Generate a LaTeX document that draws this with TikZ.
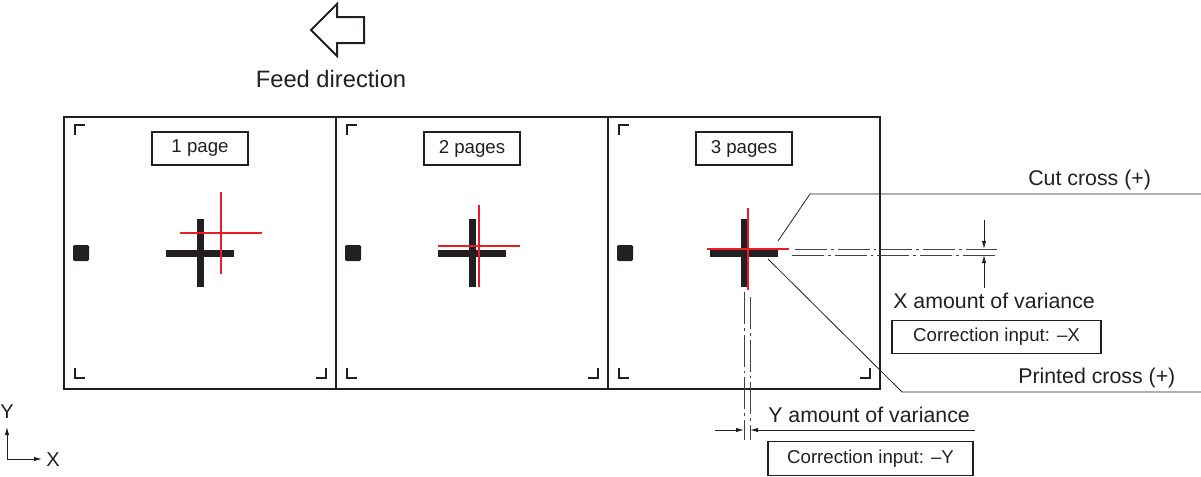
\documentclass[tikz,border=0pt]{standalone}
\usepackage{fontspec}
\setmainfont{Liberation Sans}
\usetikzlibrary{arrows.meta}
\definecolor{ink}{HTML}{231F20}
\definecolor{cutred}{HTML}{ED1C24}
\tikzset{
  frame/.style={draw=ink,line width=2.2pt},
  cornermark/.style={draw=ink,line width=2pt},
  pagebox/.style={draw=ink,line width=0.8pt,minimum width=72pt,minimum height=24.75pt,inner sep=0pt,font=\fontsize{14}{16}\selectfont,text=ink},
  corrbox/.style={draw=ink,line width=0.8pt,minimum height=25pt,inner sep=0pt,font=\fontsize{14}{16}\selectfont,text=ink},
  lbl/.style={font=\fontsize{16}{19}\selectfont,text=ink,inner sep=0pt},
  axlbl/.style={font=\fontsize{15}{17}\selectfont,text=ink,inner sep=0pt},
  blackbar/.style={fill=ink},
  redline/.style={draw=cutred,line width=1.7pt},
  dashdot/.style={draw=ink!85,line width=0.6pt,dash pattern=on 24pt off 3pt on 2pt off 3pt},
  leader/.style={draw=ink,line width=0.6pt},
  dimarrow/.style={draw=ink,line width=0.6pt,-{Latex[length=6pt,width=3.2pt]}},
}
\begin{document}
\begin{tikzpicture}[x=0.75pt,y=-0.75pt]
\useasboundingbox (0,0) rectangle (1201,476);

% feed direction arrow
\draw[draw=ink,line width=1.5pt,line join=miter]
  (311,30) -- (337,4) -- (337,17) -- (364,17) -- (364,43) -- (337,43) -- (337,56) -- cycle;
\node[lbl,font=\fontsize{17.8}{21}\selectfont] (feed) at (331,79) {Feed direction};

% pages
\foreach \i/\lab/\rx/\ry in {0/1 page/21/-20, 1/2 pages/7/-7, 2/3 pages/4/-4}{
  \pgfmathsetmacro{\o}{272*\i}
  \draw[frame] (\o+64,117) rectangle (\o+336,389);
  % corner marks
  \draw[cornermark] (\o+75,135) -- (\o+75,125) -- (\o+85,125);
  \draw[cornermark] (\o+75,368) -- (\o+75,378) -- (\o+85,378);
  \draw[cornermark] (\o+316,378) -- (\o+326,378) -- (\o+326,368);
  % register square
  \fill[ink,rounded corners=1pt] (\o+73,245) rectangle (\o+89,261);
  % page label
  \node[pagebox] (page\i) at (\o+200,148.5) {\lab};
  % printed (black) cross
  \fill[blackbar] (\o+166,249.5) rectangle (\o+234,256.5);
  \fill[blackbar] (\o+196.5,219) rectangle (\o+203.5,287);
  % cut (red) cross
  \draw[redline] (\o+200+\rx-41,253+\ry) -- (\o+200+\rx+41,253+\ry);
  \draw[redline] (\o+200+\rx,253+\ry-41) -- (\o+200+\rx,253+\ry+41);
}

% dash-dot extension lines (X)
\draw[dashdot] (795,249) -- (997,249);
\draw[dashdot] (792,255) -- (997,255);
% dash-dot extension lines (Y)
\draw[dashdot] (744,292) -- (744,440);
\draw[dashdot] (750,297) -- (750,440);

% X dimension
\coordinate (xa) at (984,220);
\coordinate (xat) at (984,249);
\coordinate (xb) at (984,288);
\coordinate (xbt) at (984,255);
\draw[dimarrow] (xa) -- (xat);
\draw[dimarrow] (xb) -- (xbt);

% Y dimension
\coordinate (ya) at (715,430);
\coordinate (yat) at (744,430);
\coordinate (yb) at (975,430);
\coordinate (ybt) at (750,430);
\draw[dimarrow] (ya) -- (yat);
\draw[dimarrow] (yb) -- (ybt);

% labels
\node[lbl,anchor=base west] (cut) at (1028,185) {Cut cross (+)};
\node[lbl,anchor=base west] (xvar) at (893,308) {X amount of variance};
\node[corrbox,minimum width=156.75pt] (corrx) at (996.5,337) {Correction input: \textendash X};
\node[lbl,anchor=base west] (printed) at (1018,383) {Printed cross (+)};
\node[lbl,anchor=base west] (yvar) at (768,422) {Y amount of variance};
\node[corrbox,minimum width=153.75pt] (corry) at (870.5,458.5) {Correction input: \textendash Y};

% leaders
\coordinate (cutend) at (778,241);
\coordinate (cutknee) at (810,194);
\coordinate (cutfar) at (1201,194);
\draw[leader] (cutend) -- (cutknee) -- (cutfar);
\coordinate (prend) at (768,259);
\coordinate (prknee) at (902,392);
\coordinate (prfar) at (1201,392);
\draw[leader] (prend) -- (prknee) -- (prfar);

% axes
\coordinate (origin) at (7,459);
\coordinate (yup) at (7,427);
\coordinate (xright) at (42,459);
\draw[dimarrow] (origin) -- (yup);
\draw[dimarrow] (origin) -- (xright);
\node[axlbl] (ylab) at (7,412) {Y};
\node[axlbl] (xlab) at (53,460) {X};
\end{tikzpicture}
\end{document}
